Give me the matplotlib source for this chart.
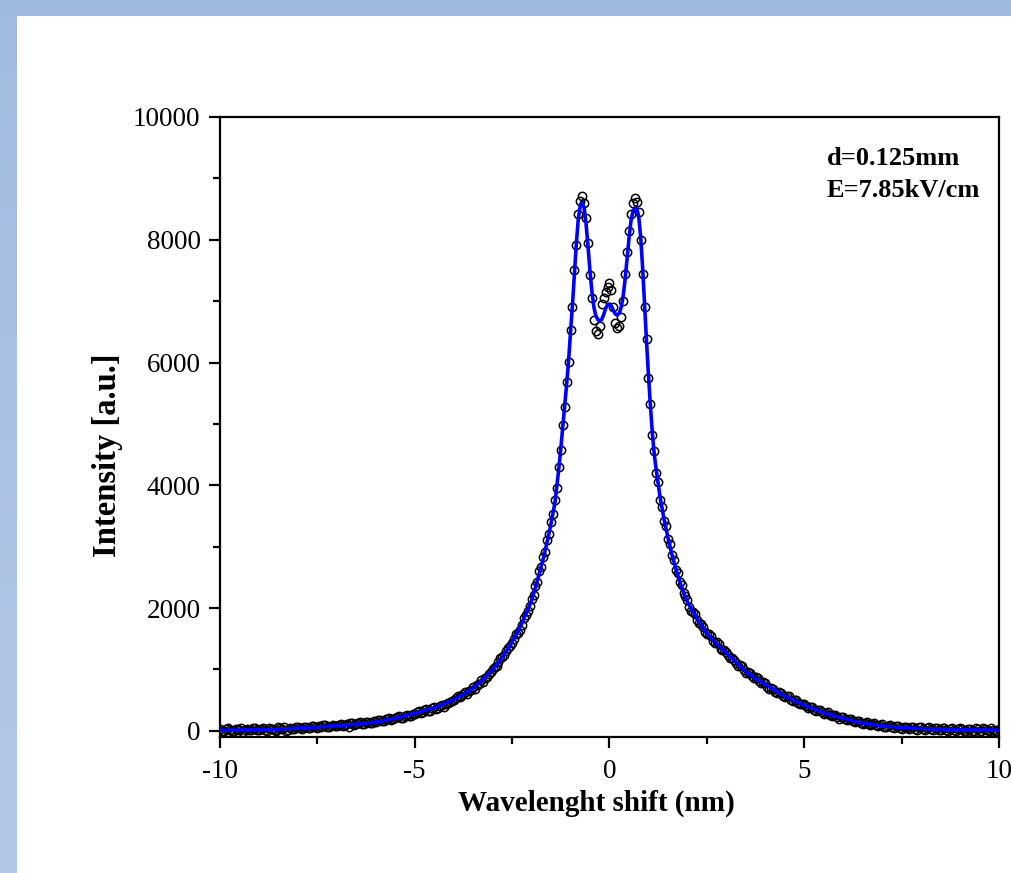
import numpy as np
import matplotlib
matplotlib.use("Agg")
import matplotlib.pyplot as plt
from matplotlib.ticker import MultipleLocator
from matplotlib.patches import Rectangle
from matplotlib.colors import LinearSegmentedColormap

plt.rcParams['font.family'] = ['Liberation Serif', 'DejaVu Serif']
plt.rcParams['axes.unicode_minus'] = False

# ---- measured data (open circles) ----
# sampling grids
x_left = np.round(np.arange(-10.0, -2.0 - 1e-9, 0.1), 3)        # -10.0 .. -2.1
x_left_mid = np.round(np.arange(-9.95, -2.0 - 1e-9, 0.1), 3)    # -9.95 .. -2.05
x_center = np.round(np.arange(-2.0, 2.0 - 1e-9, 0.05), 3)       # -2.0 .. 1.95
x_right = np.round(np.arange(2.0, 10.0 + 1e-9, 0.1), 3)         # 2.0 .. 10.0
x_right_mid = np.round(np.arange(2.05, 10.0 - 1e-9, 0.1), 3)    # 2.05 .. 9.95

y_left_tail = [25, -10, 40, 5, 30, 15, -20, 35, 10, 45,
               20, 50, 0, 35, 15, 60, 25, -5, 40, 30,
               55, 30, 70, 45, 85, 50, 60, 95, 70, 100,
               80, 115, 95, 70, 120, 105, 140, 115, 150, 125,
               150, 180, 155, 200, 185, 215, 240, 205, 265, 250,
               280, 320, 300, 350, 330, 390, 370, 420, 445, 470,
               500, 560, 570, 640, 650, 720, 740, 830, 860, 920,
               1010, 1060, 1180, 1230, 1350, 1430, 1570, 1640, 1840, 1950]

y_left_mid = [5, 30, 15, -5, 25, 40, 10, 20, 50, 15,
              35, 10, 45, 25, 5, 40, 55, 20, 35, 60,
              40, 65, 50, 80, 55, 75, 90, 60, 85, 75,
              100, 85, 110, 125, 95, 130, 110, 145, 130, 160,
              170, 160, 190, 210, 200, 230, 215, 250, 245, 275,
              300, 295, 335, 320, 365, 360, 400, 395, 460, 480,
              530, 545, 600, 600, 670, 690, 770, 790, 880, 960,
              1040, 1120, 1200, 1300, 1380, 1500, 1600, 1720, 1880, 2040]

y_center = [2150, 2210, 2360, 2430, 2600, 2670, 2830, 2920, 3110, 3200,
            3400, 3530, 3760, 3960, 4300, 4570, 4980, 5280, 5680, 6010,
            6530, 6900, 7500, 7920, 8420, 8630, 8710, 8600, 8350, 7950,
            7420, 7050, 6700, 6520, 6470, 6600, 6950, 7050, 7150, 7230,
            7300, 7180, 6900, 6650, 6560, 6600, 6750, 7000, 7450, 7800,
            8150, 8420, 8600, 8680, 8620, 8450, 8000, 7450, 6900, 6380,
            5750, 5330, 4820, 4560, 4200, 4050, 3760, 3650, 3420, 3330,
            3120, 3040, 2860, 2790, 2620, 2570, 2420, 2370, 2240, 2200]

y_right_tail = [2130, 1960, 1900, 1750, 1700, 1570, 1540, 1430, 1410, 1310,
                1290, 1190, 1160, 1060, 1050, 950, 950, 860, 860, 780,
                780, 690, 690, 620, 620, 550, 560, 490, 500, 430,
                440, 370, 390, 320, 340, 280, 300, 240, 260, 200,
                225, 170, 195, 140, 165, 110, 140, 90, 120, 75,
                105, 60, 90, 45, 80, 35, 70, 30, 65, 20,
                60, 20, 55, 15, 50, 10, 45, 5, 45, 0,
                40, 0, 35, 5, 45, -5, 40, 10, 50, 0, 25]

y_right_mid = [2020, 1940, 1800, 1740, 1610, 1570, 1460, 1440, 1340, 1320,
               1230, 1180, 1100, 1070, 990, 960, 890, 870, 810, 800,
               720, 700, 640, 630, 570, 565, 510, 505, 450, 445,
               400, 395, 345, 340, 300, 295, 260, 255, 225, 220,
               190, 190, 160, 160, 130, 135, 105, 115, 90, 100,
               70, 85, 55, 75, 45, 65, 40, 60, 35, 55,
               30, 50, 25, 45, 20, 40, 15, 35, 10, 30,
               25, 5, 30, 0, 25, -5, 30, 5, 20, 0]

x_data = np.concatenate([x_left, x_left_mid, x_center, x_right, x_right_mid])
y_data = np.array(y_left_tail + y_left_mid + y_center + y_right_tail + y_right_mid)

# ---- fitted curve (blue line) ----
x_fit = [-10, -9.5, -9, -8.5, -8, -7.5, -7, -6.5, -6, -5.5, -5, -4.5, -4, -3.75,
         -3.5, -3.25, -3, -2.75, -2.5, -2.25, -2.0, -1.9, -1.8, -1.7, -1.6, -1.5,
         -1.4, -1.3, -1.25, -1.2, -1.15, -1.1, -1.05, -1.0, -0.95, -0.9, -0.85,
         -0.8, -0.75, -0.7, -0.65, -0.6, -0.55, -0.5, -0.45, -0.4, -0.35, -0.3,
         -0.25, -0.2, -0.15, -0.1, -0.05, 0, 0.05, 0.1, 0.15, 0.2, 0.25, 0.3,
         0.35, 0.4, 0.45, 0.5, 0.55, 0.6, 0.65, 0.7, 0.75, 0.8, 0.85, 0.9, 0.95,
         1.0, 1.05, 1.1, 1.15, 1.2, 1.3, 1.4, 1.5, 1.6, 1.7, 1.8, 1.9, 2.0, 2.25,
         2.5, 2.75, 3.0, 3.25, 3.5, 3.75, 4.0, 4.5, 5.0, 5.5, 6.0, 6.5, 7.0, 7.5,
         8.0, 8.5, 9.0, 9.5, 10]
y_fit = [10, 15, 22, 30, 45, 65, 85, 110, 145, 210, 290, 380, 510, 600,
         700, 840, 1000, 1200, 1450, 1750, 2120, 2340, 2570, 2810, 3080, 3380,
         3720, 4280, 4600, 4950, 5300, 5650, 6030, 6500, 6950, 7450, 7950,
         8350, 8560, 8610, 8520, 8250, 7880, 7480, 7150, 6900, 6760, 6700,
         6680, 6700, 6780, 6880, 6940, 6955, 6920, 6850, 6790, 6775, 6800, 6900,
         7080, 7350, 7680, 8020, 8300, 8460, 8520, 8510, 8380, 8050, 7550, 6950, 6350,
         5800, 5300, 4850, 4500, 4250, 3800, 3450, 3150, 2880, 2650, 2440, 2260, 2100, 1830,
         1590, 1420, 1270, 1120, 970, 860, 760, 570, 420, 300, 205, 130, 85, 55,
         40, 30, 20, 15, 12]

annot_lines = ["d=0.125mm", "E=7.85kV/cm"]

W, H = 1012, 873
fig = plt.figure(figsize=(W / 100, H / 100), dpi=100)
fig.patch.set_facecolor('white')

# blue frame strips (top and left)
fig.patches.append(Rectangle((0, 1 - 16 / H), 1, 16 / H, transform=fig.transFigure,
                             facecolor='#a0bade', edgecolor='none', zorder=0))
gax = fig.add_axes([0, 0, 17 / W, 1 - 16 / H])
grad = np.linspace(0, 1, 256).reshape(-1, 1)
cm = LinearSegmentedColormap.from_list('g', ['#a2bcdf', '#b2c8e8'])
gax.imshow(grad, aspect='auto', cmap=cm, origin='upper')
gax.axis('off')

ax = fig.add_axes([220 / W, 1 - 737 / H, (999 - 220) / W, (737 - 117) / H])
ax.plot(x_data, y_data, linestyle='none', marker='o', markersize=6,
        markerfacecolor='none', markeredgecolor='black', markeredgewidth=1.1, zorder=2)
ax.plot(x_fit, y_fit, color='#0000ff', linewidth=2.6, zorder=3)

ax.set_xlim(-10, 10)
ax.set_ylim(-100, 10000)
ax.xaxis.set_major_locator(MultipleLocator(5))
ax.xaxis.set_minor_locator(MultipleLocator(2.5))
ax.yaxis.set_major_locator(MultipleLocator(2000))
ax.yaxis.set_minor_locator(MultipleLocator(1000))
ax.tick_params(which='both', direction='out', width=1.6, top=False, right=False,
               labelsize=19.5)
ax.tick_params(which='major', length=8)
ax.tick_params(which='minor', length=5)
ax.tick_params(axis='x', pad=8)
ax.tick_params(axis='y', pad=6)
for s in ax.spines.values():
    s.set_linewidth(1.6)

ax.set_xlabel('Wavelenght shift (nm)', fontsize=21, fontweight='bold')
ax.set_ylabel('Intensity [a.u.]', fontsize=23.5, fontweight='bold')
ax.xaxis.label.set_va('center')
ax.yaxis.label.set_va('center')
ax.xaxis.set_label_coords((596 - 220) / 779, (737 - 803) / 620)
ax.yaxis.set_label_coords((108 - 220) / 779, (737 - 455) / 620)

ax.text((827 - 220) / 779, (737 - 165) / 620, annot_lines[0], transform=ax.transAxes,
        fontsize=19, fontweight='bold', ha='left', va='baseline')
ax.text((827 - 220) / 779, (737 - 197) / 620, annot_lines[1], transform=ax.transAxes,
        fontsize=19, fontweight='bold', ha='left', va='baseline')

fig.savefig('out.png', dpi=100, facecolor='white')
